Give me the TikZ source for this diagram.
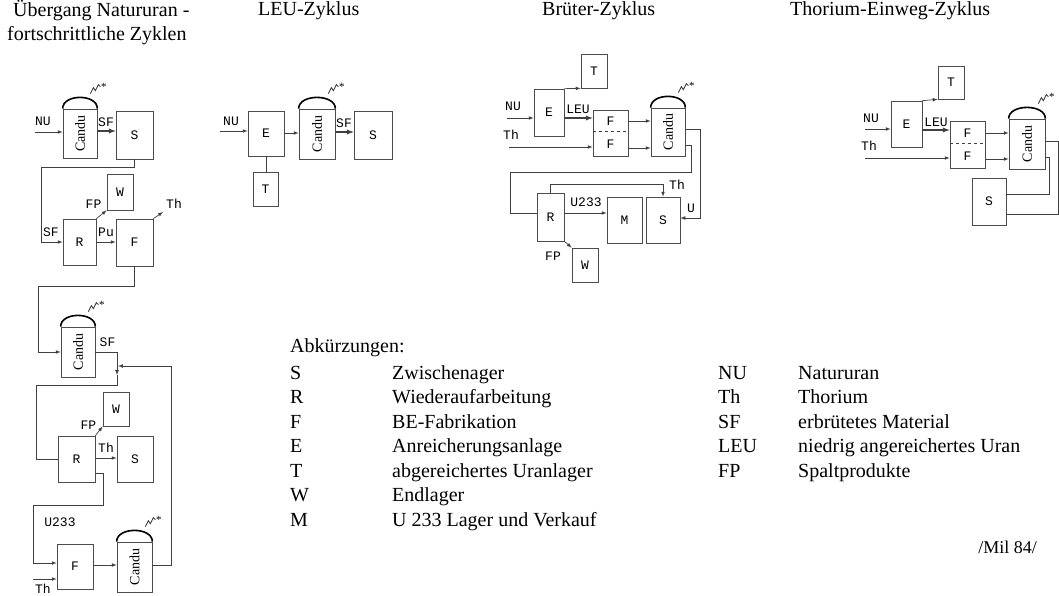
\documentclass[tikz,border=0pt]{standalone}
\usepackage{fontspec}
\setmainfont{Liberation Serif}
\setmonofont{Liberation Mono}
\usepackage{graphicx}
\usetikzlibrary{calc}

\newcommand{\textgross}{\fontsize{20}{24}\selectfont}
\newcommand{\klein}{\fontsize{13}{15}\selectfont\ttfamily}
\newcommand{\candutext}{\rotatebox{90}{\rmfamily\fontsize{14}{16}\selectfont Candu}}

\tikzset{
  box/.style={draw=black!70, line width=0.7pt, minimum width=36, minimum height=46, inner sep=0pt, font=\klein},
  kbox/.style={box, minimum width=26, minimum height=34},
  reaktor/.style={box, minimum width=35, minimum height=50},
  lbl/.style={inner sep=0pt, font=\klein},
  leitung/.style={draw=black!75, line width=0.7pt},
  fluss/.style={leitung, ->},
  dick/.style={fluss, line width=1.3pt},
  titel/.style={anchor=base west, inner sep=0pt, font=\textgross},
}

% Kuppel und Strahlung ueber einem Reaktor
\newcommand{\kuppel}[1]{%
  \draw[line width=1.6pt] (#1.north west) .. controls ($(#1.north west)+(0,-15)$) and ($(#1.north east)+(0,-15)$) .. (#1.north east);
  \draw[leitung, line width=0.9pt] ($(#1.north east)+(-7,-15)$) -- ++(3,-6) -- ++(2,3) -- ++(3,-6) -- ++(2,2)
    node[anchor=west, inner sep=0.3pt, font=\fontsize{11}{11}\selectfont] (#1-s) {*};}

\begin{document}
\begin{tikzpicture}[x=1pt, y=-1pt, >=latex]
    \useasboundingbox (0,0) rectangle (1059,596);

    % 1. Ueberschriften
    \node[titel] (h1a) at (13,17) {Übergang Natururan -};
    \node[titel] (h1b) at (7,41) {fortschrittliche Zyklen};
    \node[titel] (h2) at (258,16) {LEU-Zyklus};
    \node[titel] (h3) at (542,16) {Brüter-Zyklus};
    \node[titel] (h4) at (790,16) {Thorium-Einweg-Zyklus};

    % 2. Uebergang Natururan - fortschrittliche Zyklen
    \node[reaktor, minimum width=34, minimum height=49] (cA) at (80,133.5) {\candutext};
    \node[box, minimum width=37, minimum height=48] (sA) at (134.5,135) {S};
    \node[kbox, minimum height=36] (wA) at (120,192) {W};
    \node[box, minimum width=33] (rA) at (79.5,242) {R};
    \node[box, minimum width=37, minimum height=47] (fA) at (134.5,242.5) {F};
    \node[reaktor, minimum width=34] (cB) at (78,352) {\candutext};
    \node[kbox] (wB) at (116,409) {W};
    \node[box, minimum width=37] (rB) at (76.5,459) {R};
    \node[box] (sB) at (135,459) {S};
    \node[box, minimum height=45] (fB) at (75,566.5) {F};
    \node[reaktor] (cC) at (134.5,567) {\candutext};
    \kuppel{cA} \kuppel{cB} \kuppel{cC}

    \coordinate (nuA) at (35,132);
    \draw[fluss] (nuA) -- (nuA -| cA.west);
    \node[lbl] (lnuA) at (43,121) {NU};
    \draw[dick] (cA.east |- 0,131) -- (sA.west |- 0,131);
    \node[lbl] (lsfA) at (106,122) {SF};
    \draw[fluss] (sA.south) |- (41,167) |- (rA.west);
    \node[lbl] (lsfA2) at (51,232) {SF};
    \draw[fluss] (rA.north east) -- (wA.south west);
    \node[lbl] (lfpA) at (93.5,204) {FP};
    \draw[fluss] (rA.east) -- (fA.west |- rA.east);
    \node[lbl] (lpuA) at (106,232) {Pu};
    \coordinate (thA) at (163,212);
    \draw[fluss] (fA.north east) -- (thA);
    \node[lbl] (lthA) at (174,204) {Th};
    \draw[fluss] (fA.south) |- (38,286) |- (cB.west);

    \coordinate (jB) at (117,375);
    \draw[fluss] (cB.east) -| (jB);
    \node[lbl] (lsfB) at (107.5,342.5) {SF};
    \draw[leitung] (jB) |- (36,385) |- (rB.west);
    \draw[fluss] (rB.north east) -- (wB.south west);
    \node[lbl] (lfpB) at (88.5,425) {FP};
    \draw[fluss] (rB.east |- 0,458) -- (sB.west |- 0,458);
    \node[lbl] (lthB) at (106,448) {Th};
    \draw[fluss] (rB.east |- 0,473) -- (103,473) |- (33,505) |- (fB.west |- 0,563);
    \node[lbl] (lu233B) at (60,522) {U233};
    \coordinate (thB) at (33,579);
    \draw[fluss] (thB) -- (fB.west |- thB);
    \node[lbl] (lthB2) at (43,589) {Th};
    \draw[fluss] (fB.east |- 0,565) -- (cC.west |- 0,565);
    \coordinate (eB) at (118,366);
    \draw[fluss] (cC.east |- 0,565) -| (171,366) -- (eB);

    % 3. LEU-Zyklus
    \node[box, minimum height=45] (eL) at (266,133.5) {E};
    \node[kbox, minimum width=25] (tL) at (265.5,189) {T};
    \node[reaktor, minimum width=36] (cL) at (317,134) {\candutext};
    \node[box, minimum width=38, minimum height=48] (sL) at (373,135) {S};
    \kuppel{cL}
    \coordinate (nuL) at (220,131);
    \draw[fluss] (nuL) -- (nuL -| eL.west);
    \node[lbl] (lnuL) at (231,121) {NU};
    \draw[leitung] (eL.south) -- (eL.south |- tL.north);
    \draw[fluss] (eL.east |- 0,133) -- (cL.west |- 0,133);
    \draw[dick] (cL.east |- 0,132) -- (sL.west |- 0,132);
    \node[lbl] (lsfL) at (344,123) {SF};

    % 4. Brueter-Zyklus
    \node[kbox] (tR) at (594,71) {T};
    \node[box, minimum width=30, minimum height=47] (eR) at (549,112.5) {E};
    \node[box, minimum width=35] (fR) at (610.5,133) {};
    \draw[leitung, dashed] (fR.west |- 0,131) -- (fR.east |- 0,131);
    \node[lbl] (fR1) at (610.5,121) {F};
    \node[lbl] (fR2) at (610.5,144) {F};
    \node[reaktor, minimum width=34, minimum height=48] (cR) at (668,132) {\candutext};
    \node[box, minimum width=27, minimum height=48] (rR) at (550.5,217) {R};
    \node[box, minimum width=35] (mR) at (624.5,220) {M};
    \node[box, minimum width=34] (sR) at (663,220) {S};
    \node[kbox] (wR) at (585,265) {W};
    \kuppel{cR}
    \draw[fluss] (eR.north east) -- (tR.south west);
    \coordinate (nuR) at (507,118);
    \draw[fluss] (nuR) -- (nuR -| eR.west);
    \node[lbl] (lnuR) at (513,106) {NU};
    \draw[dick] (eR.east |- 0,118) -- (fR.west |- 0,118);
    \node[lbl] (lleuR) at (578,109) {LEU};
    \coordinate (thR) at (509,147);
    \draw[fluss] (thR) -- (thR -| fR.west);
    \node[lbl] (lthR) at (511,135) {Th};
    \draw[fluss] (fR.east |- 0,121) -- (cR.west |- 0,121);
    \draw[fluss] (fR.east |- 0,148) -- (cR.west |- 0,148);
    \draw[fluss] (cR.east |- 0,129) -| (700,218) -- (sR.east |- 0,218);
    \node[lbl] (luR) at (691,208) {U};
    \draw[leitung] (cR.east |- 0,145) -| (691,172) -| (510,213) -- (rR.west |- 0,213);
    \draw[fluss] (rR.north) |- (663,184) -- (sR.north);
    \node[lbl] (lthR2) at (677,185) {Th};
    \draw[fluss] (rR.east |- 0,213) -- (mR.west |- 0,213);
    \node[lbl] (lu233R) at (586,202) {U233};
    \draw[fluss] (rR.south east) -- (wR.north west);
    \node[lbl] (lfpR) at (553,256) {FP};

    % 5. Thorium-Einweg-Zyklus
    \node[kbox, minimum height=33] (tT) at (951,82.5) {T};
    \node[box, minimum width=31] (eT) at (906.5,124) {E};
    \node[box, minimum width=35, minimum height=47] (fT) at (967.5,144.5) {};
    \draw[leitung, dashed] (fT.west |- 0,143) -- (fT.east |- 0,143);
    \node[lbl] (fT1) at (967.5,133) {F};
    \node[lbl] (fT2) at (967.5,156) {F};
    \node[reaktor, minimum width=36] (cT) at (1027,144) {\candutext};
    \node[box, minimum width=34, minimum height=47] (sT) at (989,201.5) {S};
    \kuppel{cT}
    \draw[fluss] (eT.north east) -- (tT.south west);
    \coordinate (nuT) at (865,129);
    \draw[fluss] (nuT) -- (nuT -| eT.west);
    \node[lbl] (lnuT) at (871,118) {NU};
    \draw[dick] (eT.east |- 0,130) -- (fT.west |- 0,130);
    \node[lbl] (lleuT) at (936,122) {LEU};
    \coordinate (thT) at (865,158);
    \draw[fluss] (thT) -- (thT -| fT.west);
    \node[lbl] (lthT) at (869,146) {Th};
    \draw[fluss] (fT.east |- 0,133) -- (cT.west |- 0,133);
    \draw[fluss] (fT.east |- 0,159) -- (cT.west |- 0,159);
    \draw[leitung] (cT.east |- 0,141) -| (1058,214) -- (sT.east |- 0,214);
    \draw[leitung] (cT.east |- 0,157) -| (1049,194) -- (sT.east |- 0,194);

    % 6. Abkuerzungen
    \node[titel] (abk) at (290,352) {Abkürzungen:};
    \foreach \k/\t [count=\i] in {S/Zwischenager, R/Wiederaufarbeitung, F/BE-Fabrikation,
        E/Anreicherungsanlage, T/abgereichertes Uranlager, W/Endlager, M/U 233 Lager und Verkauf} {
      \node[titel] (ka\i) at (290,{379+24.5*(\i-1)}) {\k};
      \node[titel] (ba\i) at (392,{379+24.5*(\i-1)}) {\t};
    }
    \foreach \k/\t [count=\i] in {NU/Natururan, Th/Thorium, SF/erbrütetes Material,
        LEU/niedrig angereichertes Uran, FP/Spaltprodukte} {
      \node[titel] (kb\i) at (718,{379+24.5*(\i-1)}) {\k};
      \node[titel] (bb\i) at (798,{379+24.5*(\i-1)}) {\t};
    }
    \node[titel, anchor=base east, font=\fontsize{18}{20}\selectfont] (quelle) at (1037,553) {/Mil 84/};
\end{tikzpicture}
\end{document}
